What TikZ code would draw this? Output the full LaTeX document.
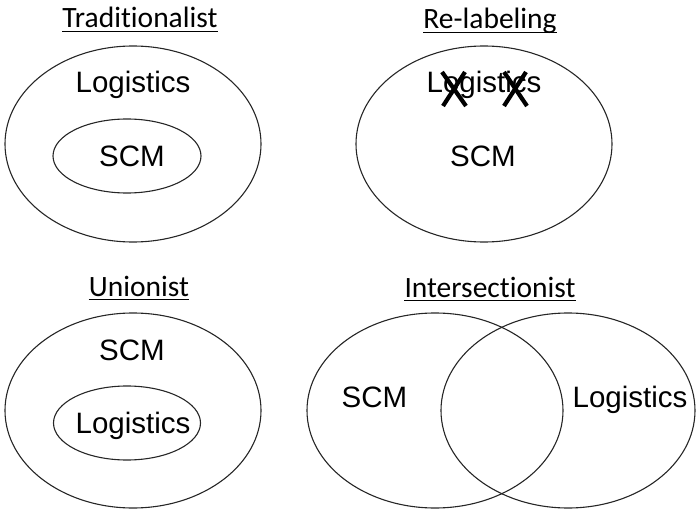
\documentclass[tikz,border=0pt]{standalone}
\usepackage{fontspec}
\setmainfont{Liberation Sans}
\newfontfamily\titlefont[Ligatures=NoCommon]{Carlito}
\begin{document}
\begin{tikzpicture}[x=1pt,y=-1pt,
  ring/.style={draw=black!85,line width=1.1pt},
  lab/.style={anchor=base,inner sep=0pt,font=\fontsize{29.5}{30}\selectfont},
  ttl/.style={anchor=base,inner sep=0pt,font=\titlefont\fontsize{29.5}{30}\selectfont},
  uline/.style={line width=1.4pt},
  cross/.style={line width=4.2pt}]
\useasboundingbox (0,0) rectangle (697,511);
% Traditionalist
\node[ttl] (t1) at (140,28) {Traditionalist};
\draw[uline] ([yshift=-3.5pt]t1.base west) -- ([yshift=-3.5pt]t1.base east);
\draw[ring] (133,144) ellipse [x radius=128,y radius=98];
\draw[ring] (127,156) ellipse [x radius=74,y radius=37];
\node[lab] (t1log) at (133,93) {Logistics};
\node[lab] (t1scm) at (132,166) {SCM};
% Re-labeling
\node[ttl] (t2) at (490,29) {Re-labeling};
\draw[uline] ([yshift=-3.5pt]t2.base west) -- ([yshift=-3.5pt]t2.base east);
\draw[ring] (484,144) ellipse [x radius=128,y radius=98];
\node[lab] (t2log) at (484,93) {Logistics};
\node[lab] (t2scm) at (483,167) {SCM};
\draw[cross] (442,72) -- (466,106);
\draw[cross] (465,72) -- (443,106);
\draw[cross] (504,72) -- (527,106);
\draw[cross] (526,72) -- (504,106);
% Unionist
\node[ttl] (t3) at (139,296) {Unionist};
\draw[uline] ([yshift=-3.5pt]t3.base west) -- ([yshift=-3.5pt]t3.base east);
\draw[ring] (133,410.5) ellipse [x radius=128,y radius=97.5];
\draw[ring] (127,423) ellipse [x radius=73.5,y radius=37];
\node[lab] (t3scm) at (132,360) {SCM};
\node[lab] (t3log) at (133,433) {Logistics};
% Intersectionist
\node[ttl] (t4) at (490,297) {Intersectionist};
\draw[uline] ([yshift=-3.5pt]t4.base west) -- ([yshift=-3.5pt]t4.base east);
\draw[ring] (435,410.5) ellipse [x radius=128,y radius=97.5];
\draw[ring] (568,410.5) ellipse [x radius=127,y radius=97.5];
\node[lab] (t4scm) at (374.5,407) {SCM};
\node[lab] (t4log) at (630,407) {Logistics};
\end{tikzpicture}
\end{document}
